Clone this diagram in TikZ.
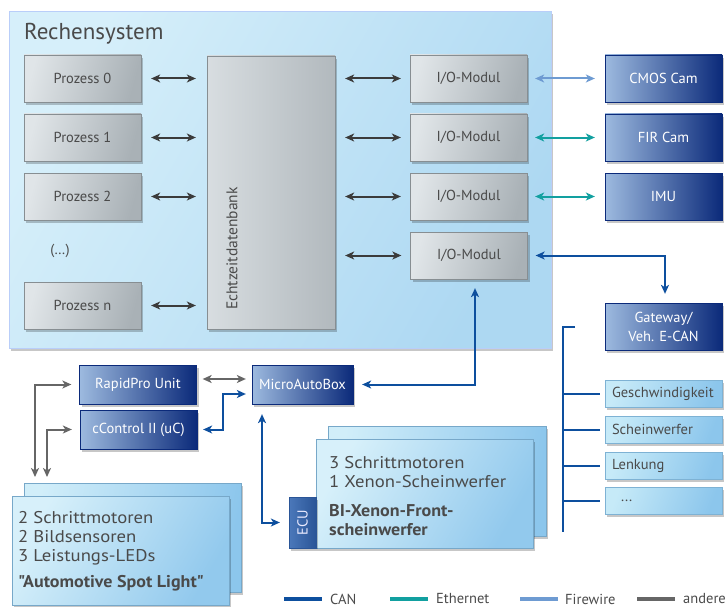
\documentclass[tikz,border=0pt]{standalone}
\usepackage{fontspec}
\setmainfont{PT Sans}
\newfontfamily\bodyfont{PT Sans}[FakeStretch=1.1]
\newfontfamily\boldbodyfont{PT Sans Bold}[FakeStretch=1.06]
\usetikzlibrary{arrows.meta,shadows}
\definecolor{cancol}{HTML}{0D4F9E}
\definecolor{ethcol}{HTML}{12A0A0}
\definecolor{fwcol}{HTML}{6E9BD2}
\definecolor{othcol}{HTML}{666666}
\definecolor{arrdark}{HTML}{3B3B3B}
\definecolor{txt}{HTML}{4A4A4A}
\definecolor{sysL}{HTML}{D6EFFA}
\definecolor{sysR}{HTML}{ADD8F2}
\definecolor{grayL}{HTML}{E0E5E8}
\definecolor{grayR}{HTML}{A9B1B6}
\definecolor{devL}{HTML}{9DBADF}
\definecolor{devM}{HTML}{2D5BA7}
\definecolor{devR}{HTML}{0B2A7A}
\definecolor{lbL}{HTML}{C6EAF8}
\definecolor{lbR}{HTML}{8CC6EC}
\definecolor{ecuL}{HTML}{4B78BA}
\definecolor{ecuR}{HTML}{2A5597}
\tikzset{
  tip/.tip={Stealth[length=9pt,width=8pt,inset=2.5pt]},
  shad/.style={drop shadow={shadow xshift=2pt,shadow yshift=-3pt,opacity=0.22,fill=black}},
  sysbox/.style={left color=sysL,right color=sysR,shading angle=60,draw=sysR!80!blue!60,line width=0.5pt,shad,inner sep=0pt},
  graybox/.style={left color=grayL,right color=grayR,shading angle=75,draw=grayR!80!black,line width=0.3pt,shad,
     minimum width=117pt,minimum height=47pt,inner sep=0pt,text=txt},
  dbbox/.style={left color=grayL!85!grayR,right color=grayR!90!white,draw=grayR!80!black,line width=0.3pt,shad,inner sep=0pt},
  devbox/.style={left color=devL,middle color=devM,right color=devR,draw=devR,line width=0.3pt,shad,
     minimum width=117pt,minimum height=47pt,inner sep=0pt,text=white},
  lightbox/.style={left color=lbL,right color=lbR,shading angle=70,draw=lbR!90!black,line width=0.3pt,shad,
     minimum width=117pt,minimum height=27pt,text width=103pt,inner xsep=7pt,inner ysep=0pt,align=left,text=txt},
  layerback/.style={left color=lbL!80!white,right color=lbR,shading angle=80,draw=lbR!85!black,line width=0.3pt,shad,inner sep=0pt},
  layerfront/.style={left color=lbL!70!white,right color=lbR!95!white,shading angle=60,draw=lbR!85!black,line width=0.3pt,shad,inner sep=0pt},
  bodytext/.style={anchor=north west,inner sep=0pt,align=left,text=txt,font=\bodyfont\fontsize{17}{19}\selectfont},
  ecubox/.style={left color=ecuL,right color=ecuR,draw=ecuR,line width=0.3pt,shad,inner sep=0pt,text=white!92!blue},
  garrow/.style={draw=arrdark,line width=2pt,{tip}-{tip}},
  grarrow/.style={draw=othcol,line width=2pt,{tip}-{tip}},
  canarrow/.style={draw=cancol,line width=2pt,{tip}-{tip}},
  etharrow/.style={draw=ethcol,line width=2pt,{tip}-{tip}},
  fwarrow/.style={draw=fwcol,line width=2pt,{tip}-{tip}},
  canline/.style={draw=cancol,line width=2pt},
  legline/.style={line width=4pt},
  legtext/.style={anchor=west,inner sep=0pt,text=txt}
}
\begin{document}
\begin{tikzpicture}[x=1pt,y=-1pt,font=\fontsize{14.5}{19.5}\selectfont]
\useasboundingbox (0,0) rectangle (725,607);
% main system
\node[sysbox,minimum width=542pt,minimum height=337pt,anchor=north west] (sys) at (9,11) {};
\node[anchor=west,inner sep=0pt,text=txt,font=\fontsize{23}{25}\selectfont] (title) at (24,34) {Rechensystem};
% processes
\node[graybox] (p0) at (82.5,78.5) {Prozess 0};
\node[graybox] (p1) at (82.5,137.5) {Prozess 1};
\node[graybox] (p2) at (82.5,196.5) {Prozess 2};
\node[graybox] (pn) at (82.5,305.5) {Prozess n};
\node[text=txt] (dots) at (60,251) {(…)};
% database
\node[dbbox,minimum width=128pt,minimum height=273pt] (db) at (271,192.5) {};
\node[rotate=90,anchor=west,inner sep=0pt,text=txt,font=\fontsize{15.5}{17}\selectfont] (dbt) at (232,310) {Echtzeitdatenbank};
% io modules
\node[graybox] (io0) at (468.5,78.5) {I/O-Modul};
\node[graybox] (io1) at (468.5,137.5) {I/O-Modul};
\node[graybox] (io2) at (468.5,196.5) {I/O-Modul};
\node[graybox] (io3) at (469,255.5) {I/O-Modul};
% devices
\node[devbox] (cmos) at (663.5,78.5) {CMOS Cam};
\node[devbox] (fir) at (663.5,137.5) {FIR Cam};
\node[devbox] (imu) at (663.5,196.5) {IMU};
\node[devbox,align=center,font=\fontsize{14.5}{19}\selectfont] (gw) at (663.5,326.5) {Gateway/\\Veh. E-CAN};
% arrows in system
\foreach \p in {p0,p1,p2,pn}
  \draw[garrow,shorten <=10pt,shorten >=11pt] (\p.east) -- (\p.east -| db.west);
\foreach \i in {io0,io1,io2,io3}
  \draw[garrow,shorten <=10pt,shorten >=9pt] (\i.west -| db.east) -- (\i.west);
\draw[fwarrow,shorten <=8pt,shorten >=10pt] (io0.east) -- (cmos.west);
\draw[etharrow,shorten <=8pt,shorten >=10pt] (io1.east) -- (fir.west);
\draw[etharrow,shorten <=8pt,shorten >=10pt] (io2.east) -- (imu.west);
\draw[canarrow,shorten <=8pt,shorten >=9pt] (io3.east) -| ([xshift=1.5pt]gw.north);
% lower controllers
\node[devbox,minimum width=101pt,minimum height=39pt] (mab) at (302.5,384.5) {MicroAutoBox};
\node[devbox,minimum height=39pt] (rp) at (138,384.5) {RapidPro Unit};
\node[devbox,minimum height=39pt] (cc) at (138.5,429.5) {cControl II (uC)};
% spot light box
\node[layerback,minimum width=217pt,minimum height=109pt,anchor=north west] (spotb) at (24,483) {};
\node[layerfront,minimum width=217pt,minimum height=109pt,anchor=north west] (spot) at (12,496) {};
\node[bodytext] (spottxt) at (18,511)
  {2 Schrittmotoren\\2 Bildsensoren\\3 Leistungs-LEDs\\[7pt]{\boldbodyfont "Automotive Spot Light"}};
% xenon box
\node[layerback,minimum width=218pt,minimum height=110pt,anchor=north west] (xenb) at (328,426) {};
\node[layerfront,minimum width=217pt,minimum height=109pt,anchor=north west] (xen) at (316,439) {};
\node[bodytext] (xentxt) at (329,456)
  {3 Schrittmotoren\\1 Xenon-Scheinwerfer\\[10pt]{\boldbodyfont BI-Xenon-Front-}\\{\boldbodyfont scheinwerfer}};
\node[ecubox,minimum width=27pt,minimum height=51pt] (ecu) at (302.5,522.5) {\rotatebox{90}{ECU}};
% connections below
\draw[canarrow,shorten <=9pt,shorten >=9pt] (mab.east) -| ([xshift=6pt]io3.south);
\draw[grarrow,shorten <=6pt,shorten >=6pt] ([yshift=5.5pt]rp.east) -- ([yshift=5.5pt]rp.east -| mab.west);
\draw[canarrow,shorten <=6pt,shorten >=6pt] (cc.east) -- ++(26,0) |- ([yshift=-9.5pt]mab.west);
\draw[canarrow,shorten <=10pt,shorten >=9pt] ([xshift=-40.5pt]mab.south) |- (ecu.west);
\draw[grarrow,shorten <=8pt,shorten >=6pt] (rp.west) -| ([xshift=11pt]spotb.north west);
\draw[grarrow,shorten <=8pt,shorten >=6pt] (cc.west) -| ([xshift=23pt]spotb.north west);
% CAN bus
\node[lightbox] (gs) at (663.5,393.5) {Geschwindigkeit};
\node[lightbox] (sw) at (663.5,429.5) {Scheinwerfer};
\node[lightbox] (lk) at (663.5,465.5) {Lenkung};
\node[lightbox] (dt) at (663.5,500.5) {\hspace*{9pt}...};
\coordinate (bustop) at (575,327);
\coordinate (busbot) at (563,532);
\draw[canline] (bustop) -| (busbot);
\foreach \b in {gs,sw,lk,dt}
  \draw[canline,shorten >=5pt] (\b.west -| busbot) -- (\b.west);
% legend
\node[legtext] (lcan) at (330,599) {CAN};
\node[legtext] (leth) at (436,599) {Ethernet};
\node[legtext] (lfw) at (565,599) {Firewire};
\node[legtext] (loth) at (683,599) {andere};
\draw[legline,cancol] ([xshift=-46pt]lcan.west) -- ++(38,0);
\draw[legline,ethcol] ([xshift=-46pt]leth.west) -- ++(38,0);
\draw[legline,fwcol] ([xshift=-45pt]lfw.west) -- ++(38,0);
\draw[legline,othcol] ([xshift=-46pt]loth.west) -- ++(38,0);
\end{tikzpicture}
\end{document}
